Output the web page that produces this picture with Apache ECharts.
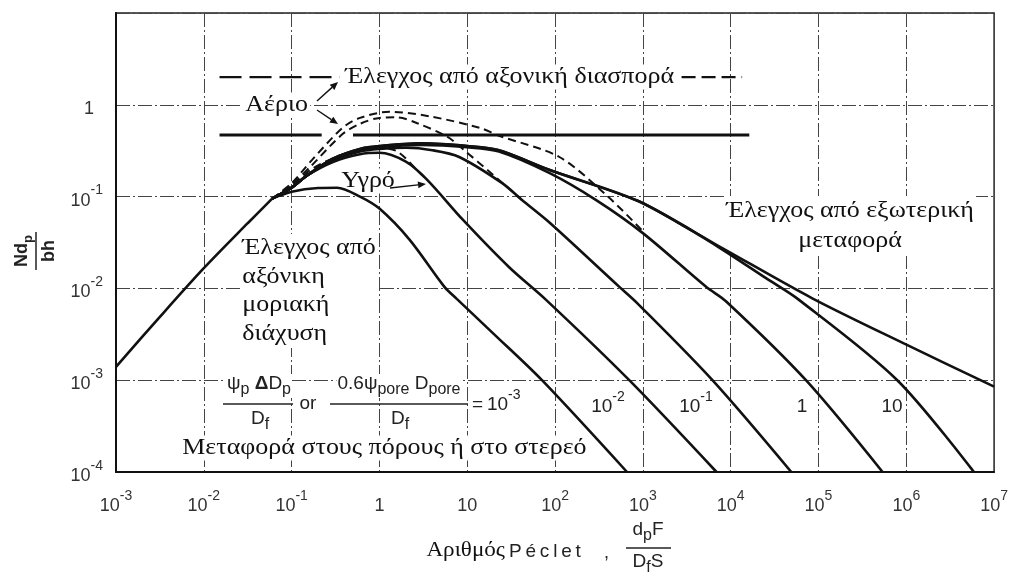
<!DOCTYPE html>
<html><head><meta charset="utf-8">
<script src="https://cdn.jsdelivr.net/npm/echarts@6/dist/echarts.min.js"></script>
<style>html,body{margin:0;padding:0;background:#fff}#c{width:1011px;height:575px}</style>
</head><body><div id="c"></div>
<script>
// ---- data (x = Péclet number, y = N dp / bh) ----
const asymptote = [[0.001,0.0014],[0.00316,0.0049],[0.01,0.0166],[0.0316,0.0513],[0.06,0.095]];
const psi1e3 = [[0.06,0.095],[0.1,0.113],[0.2,0.124],[0.33,0.125],[0.6,0.1],[1,0.074],[2.2,0.034],[5.5,0.0104],[7.6,0.0077],[20,0.0032],[71,0.001],[660,0.0001]];
const psi1e2 = [[0.06,0.095],[0.1,0.125],[0.15,0.17],[0.3,0.24],[0.6,0.29],[1,0.3],[2,0.24],[3.5,0.152],[8.9,0.056],[30,0.017],[79,0.0075],[700,0.001],[6900,0.0001]];
const psi1e1 = [[0.06,0.095],[0.1,0.125],[0.15,0.17],[0.3,0.25],[0.6,0.31],[1,0.33],[2,0.34],[4,0.32],[8.1,0.27],[25,0.14],[42,0.092],[87,0.052],[540,0.0104],[850,0.007],[6200,0.001],[49000,0.0001]];
const psi1 = [[0.06,0.095],[0.1,0.125],[0.15,0.17],[0.3,0.26],[0.6,0.32],[1,0.345],[3,0.365],[10,0.345],[23,0.31],[87,0.18],[297,0.091],[1000,0.04],[5250,0.0104],[8900,0.0072],[72000,0.001],[537000,0.0001]];
const psi10 = [[0.06,0.095],[0.1,0.125],[0.15,0.17],[0.3,0.26],[0.6,0.33],[1,0.355],[3,0.38],[10,0.355],[23,0.32],[87,0.195],[870,0.09],[3000,0.047],[8300,0.026],[25000,0.013],[60000,0.0075],[790000,0.001],[5900000,0.0001]];
const externalControl = [[0.06,0.095],[0.1,0.125],[0.15,0.17],[0.3,0.26],[0.6,0.33],[1,0.355],[3,0.38],[10,0.355],[23,0.32],[87,0.195],[870,0.09],[8300,0.027],[85000,0.0078],[950000,0.0025],[10000000,0.00085]];
const gasOuter = [[0.06,0.095],[0.1,0.14],[0.17,0.25],[0.38,0.56],[0.6,0.72],[1.3,0.84],[3.7,0.75],[14,0.56],[23,0.46],[112,0.27],[400,0.1],[1000,0.042]];
const gasInner = [[0.06,0.095],[0.1,0.135],[0.17,0.22],[0.38,0.48],[0.6,0.62],[1,0.72],[1.6,0.73],[2.7,0.63],[5.9,0.45],[8.9,0.33],[20,0.17],[42,0.092]];
const liquid = [[0.06,0.095],[0.1,0.13],[0.17,0.2],[0.43,0.3],[1,0.34],[1.6,0.31],[2.9,0.18],[3.5,0.152]];
const dispersionLevelLeft = [[0.0151,2.0],[0.353,2.0]];
const dispersionLevelRight = [[2760,2.0],[13500,2.0]];
const solidLevelLeft = [[0.0151,0.47],[0.22,0.47]];
const solidLevelRight = [[0.5,0.47],[16300,0.47]];
const psiLabels = ['10^-2','10^-1','1','10'];

const SERIF = '"Liberation Serif","DejaVu Serif",serif';
const SANS = '"Liberation Sans","DejaVu Sans",sans-serif';

function expLabel(v, isY) {
  const e = Math.round(Math.log10(v));
  if (e === 0) return isY ? '{one|1}' : '{b|1}';
  if (e === 1) return isY ? '' : '{b|10}';
  return '{b|10}{s|' + (e < 0 ? '-' : '') + Math.abs(e) + '}';
}
const tickRich = {
  b: {fontSize: 18, fontFamily: SANS, color: '#333', lineHeight: 26, verticalAlign: 'bottom'},
  one: {fontSize: 18, fontFamily: SANS, color: '#333', lineHeight: 26, verticalAlign: 'bottom', padding: [0, 9, 0, 0]},
  s: {fontSize: 14, fontFamily: SANS, color: '#333', lineHeight: 8, verticalAlign: 'top'}
};
const splitStyle = {color: '#444', width: 1, type: [14, 3, 2, 3]};

function solid(data, w) {
  return {type: 'line', data, symbol: 'none', smooth: 0.3, z: 3, silent: true,
    lineStyle: {color: '#111', width: w || 2.6}};
}
function dashed(data) {
  return {type: 'line', data, symbol: 'none', smooth: 0.3, z: 3, silent: true,
    lineStyle: {color: '#111', width: 2, type: [8, 5]}};
}
function straight(data, w, type) {
  return {type: 'line', data, symbol: 'none', smooth: false, z: 3, silent: true,
    lineStyle: {color: '#111', width: w, type: type || 'solid'}};
}

function serifText(x, y, text, align, lh) {
  return {type: 'text', x, y, z: 1, scaleX: 1.13, style: {text, fill: '#111', font: '23px ' + SERIF,
    align: align || 'left', verticalAlign: lh ? 'top' : 'middle', lineHeight: lh || 25,
    backgroundColor: '#fff', padding: [0, 2]}};
}
const fRich = {
  t: {fontSize: 19, fontFamily: SANS, fill: '#222', lineHeight: 24, verticalAlign: 'top'},
  tb: {fontSize: 19, fontFamily: SANS, fontWeight: 'bold', fill: '#222', lineHeight: 24, verticalAlign: 'top'},
  sub: {fontSize: 16, fontFamily: SANS, fill: '#222', lineHeight: 14, verticalAlign: 'bottom'}
};
const supRich = {
  t: {fontSize: 19, fontFamily: SANS, fill: '#222', lineHeight: 26, verticalAlign: 'bottom'},
  sup: {fontSize: 14, fontFamily: SANS, fill: '#222', lineHeight: 8, verticalAlign: 'top'}
};
function richText(x, y, text, rich, align, bg) {
  return {type: 'text', x, y, z: 1, style: {text, rich, align: align || 'center', verticalAlign: 'middle',
    backgroundColor: bg === false ? null : '#fff', padding: [0, 1]}};
}
function supLabel(s) {
  const m = s.split('^');
  return m.length > 1 ? '{t|' + m[0] + '}{sup|' + m[1] + '}' : '{t|' + s + '}';
}
function hline(x1, x2, y, w) {
  return {type: 'line', z: 4, shape: {x1, y1: y, x2, y2: y}, style: {stroke: '#222', lineWidth: w || 1.5}};
}
function arrow(x1, y1, x2, y2) {
  const a = Math.atan2(y2 - y1, x2 - x1), L = 8, W = 3.5;
  const bx = x2 - L * Math.cos(a), by = y2 - L * Math.sin(a);
  return [
    {type: 'line', z: 4, shape: {x1, y1, x2: bx, y2: by}, style: {stroke: '#111', lineWidth: 1.4}},
    {type: 'polygon', z: 4, shape: {points: [[x2, y2],
      [bx + W * Math.sin(a), by - W * Math.cos(a)], [bx - W * Math.sin(a), by + W * Math.cos(a)]]},
      style: {fill: '#111'}}
  ];
}

const psiX = [608, 696, 802, 892];
const graphics = [
  serifText(343, 77, 'Έλεγχος από αξονική διασπορά'),
  serifText(243, 105, 'Αέριο'),
  serifText(339, 181, 'Υγρό'),
  serifText(240, 234, 'Έλεγχος από\nαξόνικη\nμοριακή\nδιάχυση', 'left', 28.5),
  serifText(850, 196, 'Έλεγχος από εξωτερική\nμεταφορά', 'center', 30),
  serifText(180, 448, 'Μεταφορά στους πόρους ή στο στερεό'),
  richText(259, 386, '{t|ψ}{sub|p}{tb| Δ}{t|D}{sub|p}', fRich),
  hline(223, 293, 404),
  richText(260, 421, '{t|D}{sub|f}', fRich),
  richText(308, 406, '{t|or}', fRich),
  richText(399, 386, '{t|0.6ψ}{sub|pore}{t| D}{sub|pore}', fRich),
  hline(330, 468, 404),
  richText(400, 421, '{t|D}{sub|f}', fRich),
  richText(471, 401, '{t|=\u200910}{sup|-3}', supRich, 'left'),
  ...psiLabels.map((s, i) => richText(psiX[i], 403, supLabel(s), supRich, 'center', false)),
  ...arrow(317, 101, 338, 82),
  ...arrow(317, 110, 338, 124),
  ...arrow(390, 188, 426, 184),
  // y-axis title (rotated fraction)
  {type: 'group', x: 36, y: 251, rotation: Math.PI / 2, children: [
    {type: 'text', x: 0, y: -12, style: {text: '{t|Nd}{sub|p}', align: 'center', verticalAlign: 'middle',
      rich: {t: {fontSize: 18, fontWeight: 'bold', fontFamily: SANS, fill: '#222', lineHeight: 22, verticalAlign: 'top'},
             sub: {fontSize: 13, fontWeight: 'bold', fontFamily: SANS, fill: '#222', lineHeight: 12, verticalAlign: 'bottom'}}}},
    {type: 'line', shape: {x1: -19, y1: 0, x2: 19, y2: 0}, style: {stroke: '#222', lineWidth: 1.5}},
    {type: 'text', x: 0, y: 13, style: {text: 'bh', align: 'center', verticalAlign: 'middle',
      font: 'bold 18px ' + SANS, fill: '#222'}}
  ]},
  // x-axis title
  {type: 'text', x: 505, y: 550, scaleX: 1.1, style: {text: 'Αριθμός', font: '21px ' + SERIF, fill: '#111', align: 'right', verticalAlign: 'middle'}},
  {type: 'text', x: 509, y: 552, style: {text: 'P\u2009é\u2009c\u2009l\u2009e\u2009t', font: '19px ' + SANS, fill: '#222', align: 'left', verticalAlign: 'middle'}},
  {type: 'text', x: 604, y: 553, style: {text: ',', font: '18px ' + SANS, fill: '#222', align: 'left', verticalAlign: 'middle'}},
  richText(648, 532, '{t|d}{sub|p}{t|F}', fRich, 'center', false),
  hline(626, 671, 548),
  richText(648, 564, '{t|D}{sub|f}{t|S}', fRich, 'center', false)
];

const chart = echarts.init(document.getElementById('c'), null, {renderer: 'canvas'});
chart.setOption({
  animation: false,
  backgroundColor: '#fff',
  grid: {left: 116, right: 16, top: 13, bottom: 103, show: true, borderColor: '#222', borderWidth: 1.5},
  xAxis: {type: 'log', logBase: 10, min: 0.001, max: 10000000, interval: 1,
    axisLine: {show: true, onZero: false, lineStyle: {color: '#111', width: 2}},
    axisTick: {show: false},
    splitLine: {show: true, lineStyle: splitStyle},
    axisLabel: {margin: 17, formatter: v => expLabel(v, false), rich: tickRich}},
  yAxis: {type: 'log', logBase: 10, min: 0.0001, max: 10, interval: 1,
    axisLine: {show: true, onZero: false, lineStyle: {color: '#111', width: 2}},
    axisTick: {show: false},
    splitLine: {show: true, lineStyle: splitStyle},
    axisLabel: {margin: 13, formatter: v => expLabel(v, true), rich: tickRich}},
  series: [
    solid(asymptote),
    solid(psi1e3), solid(psi1e2), solid(psi1e1), solid(psi1), solid(psi10), solid(externalControl),
    dashed(gasOuter), dashed(gasInner), dashed(liquid),
    straight(dispersionLevelLeft, 2.2, [22, 8]), straight(dispersionLevelRight, 2.2, [14, 6]),
    straight(solidLevelLeft, 3), straight(solidLevelRight, 3)
  ],
  graphic: graphics
});
</script></body></html>
